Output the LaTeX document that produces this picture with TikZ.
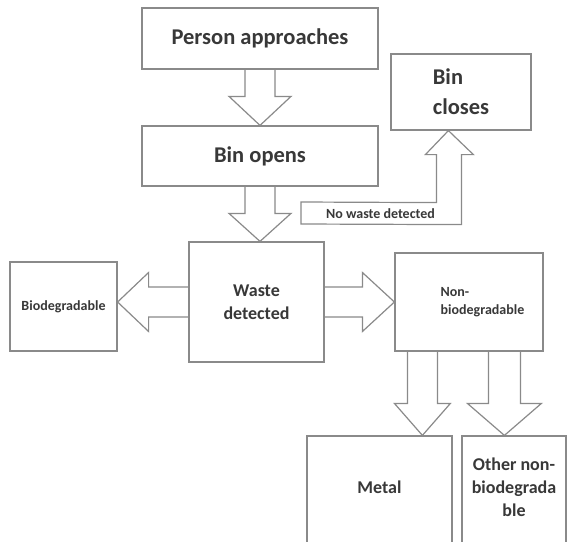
\documentclass[tikz,border=0pt]{standalone}
\usepackage{fontspec}
\setmainfont{Carlito}
\usetikzlibrary{calc}
\definecolor{linegray}{HTML}{8A8A8A}
\definecolor{textgray}{HTML}{383838}
\begin{document}
\begin{tikzpicture}[x=1pt,y=-1pt,
  box/.style={draw=linegray, line width=1.2pt, rectangle, inner sep=0pt,
    text=textgray, align=center},
  bigtext/.style={font=\bfseries\fontsize{22.5}{30}\selectfont},
  midtext/.style={font=\bfseries\fontsize{18}{23}\selectfont},
  smalltext/.style={font=\bfseries\fontsize{14}{18}\selectfont},
  blockarrow/.style={draw=linegray, line width=1.2pt, line join=miter}]
\useasboundingbox (0,0) rectangle (567,541);
\fill[white] (0,0) rectangle (567,541);
\clip (0,0) rectangle (567,541);

% process boxes
\node[box, bigtext, minimum width=236pt, minimum height=61pt] (pa) at (260,38.5) {Person approaches};
\node[box, bigtext, minimum width=236pt, minimum height=60pt] (bo) at (260,156) {Bin opens};
\node[box, bigtext, align=left, minimum width=140pt, minimum height=76pt] (bc) at (461,92) {Bin\\closes};
\node[box, midtext, minimum width=135pt, minimum height=120pt] (wd) at (256.5,302) {Waste\\detected};
\node[box, smalltext, minimum width=107pt, minimum height=89pt] (bd) at (63.5,306.5) {Biodegradable};
\node[box, smalltext, align=left, minimum width=148pt, minimum height=98pt] (nb) at (469,302)
  {\hspace*{27pt}Non-\\\hspace*{27pt}biodegradable};
\node[box, midtext, minimum width=145pt, minimum height=114pt] (mt) at (379.5,493) {\smash{Metal}};
\node[box, midtext, minimum width=104pt, minimum height=114pt] (ot) at (514,493)
  {\smash{\begin{tabular}{@{}c@{}}Other non-\\biodegrada\\ble\end{tabular}}};

% block arrows
\coordinate (t1) at (pa.south |- bo.north);
\draw[blockarrow] ($(pa.south)+(-15,0)$) -- ($(t1)+(-15,-29)$) -- ($(t1)+(-31,-29)$) -- (t1)
  -- ($(t1)+(31,-29)$) -- ($(t1)+(15,-29)$) -- ($(pa.south)+(15,0)$);

\coordinate (t2) at (bo.south |- wd.north);
\draw[blockarrow] ($(bo.south)+(-15,0)$) -- ($(t2)+(-15,-28)$) -- ($(t2)+(-31,-28)$) -- (t2)
  -- ($(t2)+(31,-28)$) -- ($(t2)+(15,-28)$) -- ($(bo.south)+(15,0)$);

\coordinate (t3) at (bd.east |- wd.west);
\draw[blockarrow] ($(wd.west)+(0,-15)$) -- ($(t3)+(31,-15)$) -- ($(t3)+(31,-29.5)$) -- (t3)
  -- ($(t3)+(31,29.5)$) -- ($(t3)+(31,15)$) -- ($(wd.west)+(0,15)$);

\coordinate (t4) at (nb.west |- wd.east);
\draw[blockarrow] ($(wd.east)+(0,-15)$) -- ($(t4)+(-32,-15)$) -- ($(t4)+(-32,-29.5)$) -- (t4)
  -- ($(t4)+(-32,29.5)$) -- ($(t4)+(-32,15)$) -- ($(wd.east)+(0,15)$);

\coordinate (t5) at ($(mt.north west)+(116,0)$);
\draw[blockarrow] ($(t5 |- nb.south)+(-15,0)$) -- ($(t5)+(-15,-32)$) -- ($(t5)+(-28,-32)$) -- (t5)
  -- ($(t5)+(28,-32)$) -- ($(t5)+(15,-32)$) -- ($(t5 |- nb.south)+(15,0)$);

\coordinate (t6) at ($(ot.north west)+(43,0)$);
\draw[blockarrow] ($(t6 |- nb.south)+(-16,0)$) -- ($(t6)+(-16,-32)$) -- ($(t6)+(-37,-32)$) -- (t6)
  -- ($(t6)+(37,-32)$) -- ($(t6)+(16,-32)$) -- ($(t6 |- nb.south)+(16,0)$);

% bent arrow up to the closing bin
\coordinate (bendstart) at (301,213);
\coordinate (t7) at ($(bc.south west)+(58,0)$);
\draw[blockarrow] ($(bendstart)+(0,-11)$) -- ($(t7)+(-12,72)$) -- ($(t7)+(-12,24)$)
  -- ($(t7)+(-23,24)$) -- (t7) -- ($(t7)+(25,24)$) -- ($(t7)+(13,24)$)
  -- ($(t7)+(13,94)$) -- ($(bendstart)+(0,11)$) -- cycle;
\node[smalltext, text=textgray, inner sep=0pt] (nwd) at (380.5,214) {No waste detected};
\end{tikzpicture}
\end{document}
